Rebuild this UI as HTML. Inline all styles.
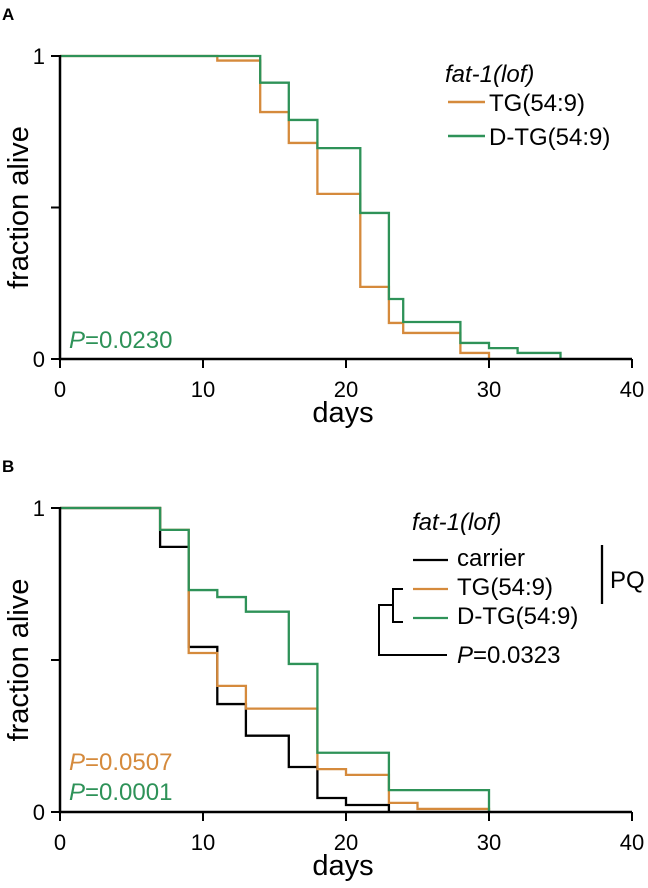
<!DOCTYPE html>
<html><head><meta charset="utf-8"><style>
body{margin:0;background:#fff}
svg{display:block;font-family:"Liberation Sans",Arial,sans-serif}
</style></head><body>
<svg id="chart" width="648" height="888" viewBox="0 0 648 888"></svg>
<script>
// Panel A data
const aTgDays = [0, 11, 14, 16, 18, 21, 23, 24, 28, 30];
const aTgFrac = [1, 0.985, 0.815, 0.713, 0.545, 0.238, 0.119, 0.086, 0.02, 0];
const aDtgDays = [0, 14, 16, 18, 21, 23, 24, 28, 30, 32, 35];
const aDtgFrac = [1, 0.912, 0.789, 0.696, 0.482, 0.198, 0.122, 0.053, 0.036, 0.02, 0];
// Panel B data
const bCarDays = [0, 7, 9, 11, 13, 16, 18, 20, 23];
const bCarFrac = [1, 0.872, 0.543, 0.355, 0.251, 0.148, 0.046, 0.023, 0];
const bTgDays = [0, 7, 9, 11, 13, 18, 20, 23, 25, 30];
const bTgFrac = [1, 0.928, 0.523, 0.415, 0.34, 0.141, 0.122, 0.03, 0.01, 0];
const bDtgDays = [0, 7, 9, 11, 13, 16, 18, 23, 30];
const bDtgFrac = [1, 0.928, 0.73, 0.707, 0.659, 0.487, 0.195, 0.072, 0];
const xTicks = [0, 10, 20, 30, 40];
const yTicks = [0, 0.5, 1];
const yTickLabels = ["0", "", "1"];

const NS = "http://www.w3.org/2000/svg";
const svg = document.getElementById("chart");
const ORANGE = "#d58a3c", GREEN = "#2e9258";
function el(tag, attrs, parent, text) {
  const e = document.createElementNS(NS, tag);
  for (const k in attrs) e.setAttribute(k, attrs[k]);
  if (text !== undefined) e.textContent = text;
  (parent || svg).appendChild(e);
  return e;
}
const xs = d => 60 + d * 14.3;

function panel(key, y1, y0, letter, series) {
  const ys = f => y0 - f * (y0 - y1);
  const g = el("g", {});
  
  
  const t = el("text", {x: 2, y: y1 - 36, "font-size": 17, "font-weight": "bold"}, g, letter);
  
  
  series.forEach(s => {
    let d = "M" + xs(s.days[0]) + "," + ys(s.frac[0]);
    for (let i = 1; i < s.days.length; i++) {
      d += " H" + xs(s.days[i]) + " V" + ys(s.frac[i]);
    }
    const p = el("path", {d: d, fill: "none", stroke: s.color, "stroke-width": 2.3}, g);
    
    
  });
  const ax = el("path", {d: "M60," + (y1 - 1) + " V" + y0 + " H" + xs(40), fill: "none", stroke: "#000", "stroke-width": 2.5}, g);
  
  
  yTicks.forEach((v, i) => {
    const tk = el("line", {x1: 51, x2: 60, y1: ys(v), y2: ys(v), stroke: "#000", "stroke-width": 2}, g);
    
    
    if (yTickLabels[i]) {
      const tl = el("text", {x: 45, y: ys(v) + 8, "font-size": 22, "text-anchor": "end"}, g, yTickLabels[i]);
      
      
    }
  });
  xTicks.forEach(v => {
    const tk = el("line", {x1: xs(v), x2: xs(v), y1: y0, y2: y0 + 9, stroke: "#000", "stroke-width": 2}, g);
    
    
    const tl = el("text", {x: xs(v), y: y0 + 38, "font-size": 22, "text-anchor": "middle"}, g, String(v));
    
    
  });
  const xt = el("text", {x: 343, y: y0 + 63, "font-size": 29, "text-anchor": "middle"}, g, "days");
  
  
  const yc = (y0 + y1) / 2;
  const yt = el("text", {x: 0, y: 0, "font-size": 29, "text-anchor": "middle", transform: "translate(28," + yc + ") rotate(-90)"}, g, "fraction alive");
  
  
  return g;
}

panel("a", 56, 359, "A", [
  {name: "tg", days: aTgDays, frac: aTgFrac, color: ORANGE},
  {name: "dtg", days: aDtgDays, frac: aDtgFrac, color: GREEN}
]);
panel("b", 508, 812, "B", [
  {name: "carrier", days: bCarDays, frac: bCarFrac, color: "#000"},
  {name: "tg", days: bTgDays, frac: bTgFrac, color: ORANGE},
  {name: "dtg", days: bDtgDays, frac: bDtgFrac, color: GREEN}
]);

function txt(x, y, s, size, color, name, extra) {
  const t = el("text", Object.assign({x: x, y: y, "font-size": size, fill: color}, extra || {}));
  t.innerHTML = s;
  
  
  return t;
}
function ln(x1, y1, x2, y2, c, name, w) {
  const l = el("line", {x1: x1, y1: y1, x2: x2, y2: y2, stroke: c, "stroke-width": w || 2.3});
  
  
}
// Panel A legend
txt(445, 82, "fat-1(lof)", 24, "#000", "legend-title-a", {"font-style": "italic"});
ln(448, 102, 485, 102, ORANGE, "legend-swatch-tg-a", 2.5);
txt(489, 111, "TG(54:9)", 24, "#000", "legend-entry-tg-a");
ln(448, 136, 485, 136, GREEN, "legend-swatch-dtg-a", 2.5);
txt(489, 145, "D-TG(54:9)", 24, "#000", "legend-entry-dtg-a");
txt(69, 348, '<tspan font-style="italic">P</tspan>=0.0230', 24, GREEN, "p-value-a");
// Panel B legend
txt(412, 530, "fat-1(lof)", 24, "#000", "legend-title-b", {"font-style": "italic"});
ln(413, 560, 448, 560, "#000", "legend-swatch-carrier-b");
txt(457, 566, "carrier", 24, "#000", "legend-entry-carrier-b");
ln(413, 589, 448, 589, ORANGE, "legend-swatch-tg-b");
txt(457, 595, "TG(54:9)", 24, "#000", "legend-entry-tg-b");
ln(413, 618, 448, 618, GREEN, "legend-swatch-dtg-b");
txt(457, 624, "D-TG(54:9)", 24, "#000", "legend-entry-dtg-b");
ln(602, 545, 602, 604, "#000", "pq-bracket");
txt(610, 588, "PQ", 24, "#000", "pq-label");
const tree = el("path", {d: "M403,589 H393 V622 H403 M393,605 H379 V655 H447", fill: "none", stroke: "#000", "stroke-width": 2});


txt(457, 663, '<tspan font-style="italic">P</tspan>=0.0323', 24, "#000", "p-value-tg-vs-dtg");
txt(69, 770, '<tspan font-style="italic">P</tspan>=0.0507', 24, ORANGE, "p-value-tg-b");
txt(69, 800, '<tspan font-style="italic">P</tspan>=0.0001', 24, GREEN, "p-value-dtg-b");
</script>
</body></html>
